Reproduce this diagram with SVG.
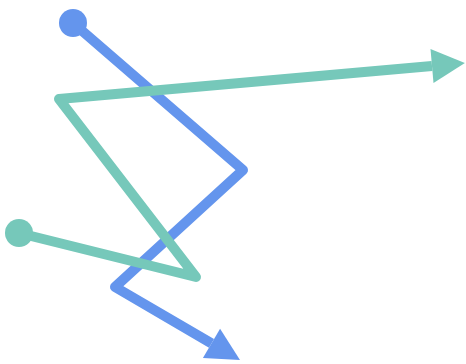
<svg xmlns="http://www.w3.org/2000/svg" width="466" height="364" viewBox="0 0 466 364">
<style>
.ln{fill:none;stroke-width:10;stroke-linejoin:round;stroke-linecap:butt}
.blue{stroke:#6495ed}
.teal{stroke:#76c8ba}
</style>
<defs>
<marker id="ab" markerUnits="userSpaceOnUse" markerWidth="34" markerHeight="34" refX="0" refY="17" orient="auto" overflow="visible">
<path d="M0,0 L33,17 L0,34 z" fill="#6495ed"/>
</marker>
<marker id="at" markerUnits="userSpaceOnUse" markerWidth="34" markerHeight="34" refX="0" refY="17" orient="auto" overflow="visible">
<path d="M0,0 L33,17 L0,34 z" fill="#76c8ba"/>
</marker>
</defs>
<rect width="466" height="364" fill="#ffffff"/>
<g id="connectors">
<polyline class="ln blue" points="73,23 243,170 115,287 211.5,343.4" marker-end="url(#ab)"/>
<polyline class="ln teal" points="19,233 196,277 59,99 432,66" marker-end="url(#at)"/>
</g>
<g id="start-blue"><circle cx="73" cy="23" r="14" fill="#6495ed"/></g>
<g id="start-teal"><circle cx="19" cy="233" r="14" fill="#76c8ba"/></g>
</svg>
